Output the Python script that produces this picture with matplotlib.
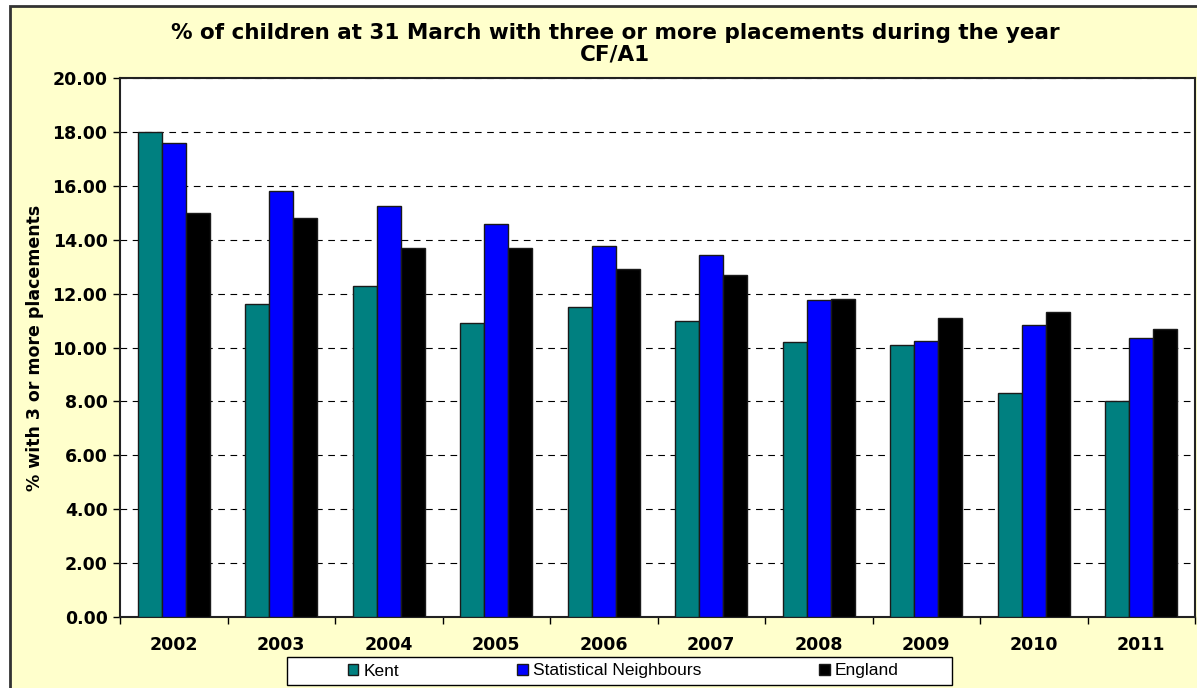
import matplotlib
matplotlib.use("Agg")
import matplotlib.pyplot as plt
import matplotlib.ticker as mtick
from matplotlib.patches import Rectangle
import numpy as np

# Data
years = ['2002', '2003', '2004', '2005', '2006', '2007', '2008', '2009', '2010', '2011']
kent = [18.0, 11.6, 12.3, 10.9, 11.5, 11.0, 10.2, 10.1, 8.3, 8.0]
stat_neighbours = [17.6, 15.8, 15.25, 14.57, 13.77, 13.43, 11.75, 10.23, 10.85, 10.37]
england = [15.0, 14.8, 13.7, 13.7, 12.9, 12.7, 11.8, 11.1, 11.3, 10.7]

W, H = 1197, 688
fig = plt.figure(figsize=(W / 100, H / 100), dpi=100, facecolor='white')

# Chart area background with border
fig.patches.append(Rectangle((10 / W, -0.05), 1.2, 1 - 6 / H + 0.05,
                             transform=fig.transFigure, facecolor='#FFFFCC',
                             edgecolor='#333333', linewidth=2, zorder=-10))

ax = fig.add_axes([120 / W, 1 - 617 / H, (1195 - 120) / W, (617 - 78) / H])
ax.set_zorder(1)
ax.set_facecolor('white')

x = np.arange(len(years))
width = 0.224
ax.bar(x - width, kent, width, color='#008080', edgecolor='#1a1a1a', linewidth=1.0, label='Kent', zorder=3)
ax.bar(x, stat_neighbours, width, color='#0000FF', edgecolor='#1a1a1a', linewidth=1.0,
       label='Statistical Neighbours', zorder=3)
ax.bar(x + width, england, width, color='#000000', edgecolor='#1a1a1a', linewidth=1.0, label='England', zorder=3)

ax.set_xlim(-0.5, len(years) - 0.5)
ax.set_ylim(0, 20)
ax.set_yticks(np.arange(0, 20.1, 2))
ax.yaxis.set_major_formatter(mtick.FormatStrFormatter('%.2f'))

ax.set_xticks(x)
ax.set_xticklabels(years)
ax.set_xticks(np.arange(-0.5, len(years)), minor=True)
ax.tick_params(axis='x', which='major', length=0, pad=14)
ax.tick_params(axis='x', which='minor', length=5, width=1, direction='out')
ax.tick_params(axis='y', length=5, width=1, direction='out', pad=4)

for lab in ax.get_xticklabels() + ax.get_yticklabels():
    lab.set_fontsize(12.5)
    lab.set_fontweight('bold')
    lab.set_family('DejaVu Sans')

ax.grid(axis='y', linestyle=(0, (6, 5)), color='black', linewidth=0.8, zorder=1)
for s in ax.spines.values():
    s.set_linewidth(1.5)
    s.set_color('#222222')

ax.set_ylabel('% with 3 or more placements', fontsize=12.5, fontweight='bold', labelpad=6)

fig.text(615 / W, 1 - 33 / H, '% of children at 31 March with three or more placements during the year',
         ha='center', va='center', fontsize=15.5, fontweight='bold')
fig.text(615 / W, 1 - 54 / H, 'CF/A1', ha='center', va='center', fontsize=15.5, fontweight='bold')

# Legend box drawn separately, entries placed inside it
fig.patches.append(Rectangle((287 / W, 1 - 685 / H), (952 - 287) / W, 28 / H,
                             transform=fig.transFigure, facecolor='white',
                             edgecolor='black', linewidth=1, zorder=1))
leg = fig.legend(loc='center left', bbox_to_anchor=(348 / W, 1 - 671 / H), ncol=3,
                 prop={'family': 'Liberation Sans', 'size': 12.5},
                 frameon=False, handlelength=0.6, handleheight=0.6, handletextpad=0.3,
                 columnspacing=6.8, borderpad=0, borderaxespad=0)

fig.savefig('out.png', dpi=100, facecolor='white')
